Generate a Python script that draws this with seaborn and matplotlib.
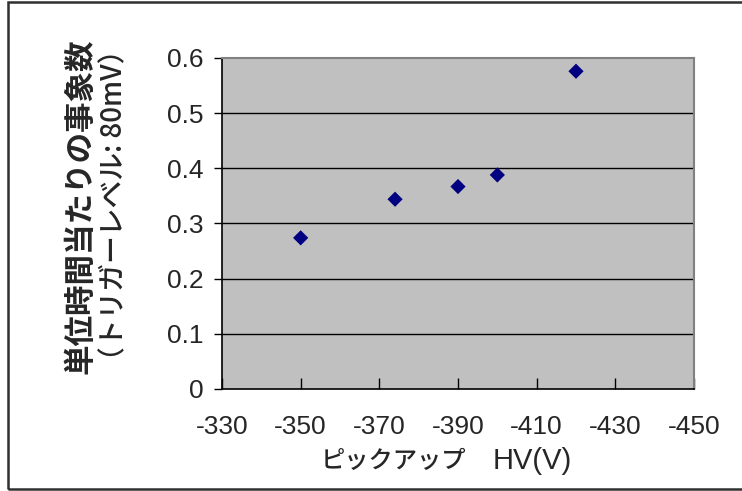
import matplotlib
matplotlib.use("Agg")
import matplotlib.pyplot as plt
import seaborn as sns
import pandas as pd
from matplotlib.patches import Rectangle

# Data
hv = [-350, -374, -390, -400, -420]
rate = [0.274, 0.344, 0.367, 0.388, 0.576]
x_ticks = [-330, -350, -370, -390, -410, -430, -450]
y_ticks = [0, 0.1, 0.2, 0.3, 0.4, 0.5, 0.6]
y_label_1 = "単位時間当たりの事象数"
y_label_2 = "（トリガーレベル: 80mV）"
x_label_jp = "ピックアップ"
x_label_unit = "HV(V)"

df = pd.DataFrame({"hv": hv, "rate": rate})

sns.set_style("white")
plt.rcParams["font.family"] = ["Liberation Sans", "Noto Sans CJK JP", "DejaVu Sans"]

W, H = 742, 491
fig = plt.figure(figsize=(W / 100, H / 100), dpi=100)
ax = fig.add_axes([222 / W, 1 - 389 / H, (694 - 222) / W, (389 - 58) / H])
ax.set_facecolor("#C0C0C0")

for y in y_ticks[1:-1]:
    ax.axhline(y, color="black", lw=1.0, zorder=1)

sns.scatterplot(data=df, x="hv", y="rate", ax=ax, marker="D", s=60,
                color="#000080", edgecolor="none", linewidth=0, zorder=3)

ax.set_xlim(x_ticks[0], x_ticks[-1])
ax.set_ylim(y_ticks[0], y_ticks[-1])
ax.set_xticks(x_ticks)
ax.set_yticks(y_ticks)
ax.set_xticklabels([str(v) for v in x_ticks])
ax.set_yticklabels(["0" if v == 0 else f"{v:.1f}" for v in y_ticks])
ax.tick_params(axis="x", direction="in", length=8, width=1, color="black",
               labelsize=19, pad=19, top=False, bottom=True)
ax.tick_params(axis="y", direction="out", length=6, width=1, color="black",
               labelsize=19, pad=7, left=True, right=False)
ax.set_xlabel("")
ax.set_ylabel("")
ax.grid(False)

for side in ["left", "bottom"]:
    ax.spines[side].set_color("black")
    ax.spines[side].set_linewidth(1.2)
for side in ["top", "right"]:
    ax.spines[side].set_visible(True)
    ax.spines[side].set_color("#808080")
    ax.spines[side].set_linewidth(1.5)

jp = ["Noto Sans CJK JP", "DejaVu Sans"]
fig.text(80 / W, 1 - 206 / H, y_label_1, rotation=90, ha="center", va="center",
         fontsize=22, fontweight="bold", family=jp)
fig.text(114 / W, 1 - 205 / H, y_label_2, rotation=90, ha="center", va="center",
         fontsize=20, fontweight="medium", family=jp)
fig.text(394 / W, 1 - 461 / H, x_label_jp, ha="center", va="center",
         fontsize=17.5, fontweight="medium", family=jp)
fig.text(532 / W, 1 - 461 / H, x_label_unit, ha="center", va="center",
         fontsize=21, family=["Liberation Sans", "DejaVu Sans"])

fig.patches.append(Rectangle((8 / W, 1 - 489 / H), 1.2, (489 - 2) / H,
                             transform=fig.transFigure, fill=False,
                             edgecolor="#303030", linewidth=1.8, zorder=0))

fig.savefig("out.png", dpi=100)
